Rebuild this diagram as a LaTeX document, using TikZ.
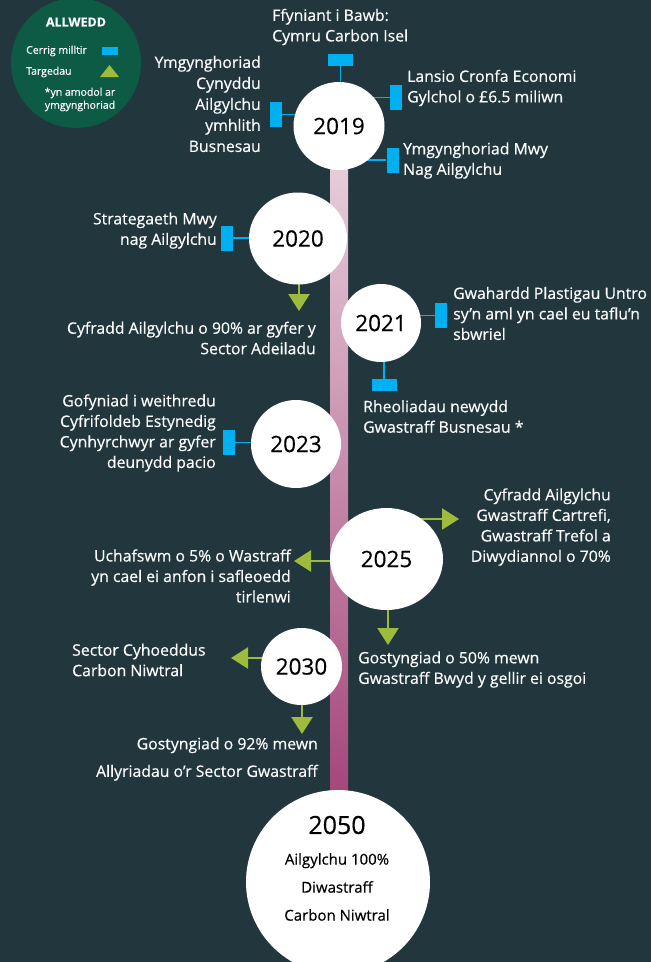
\documentclass[tikz,border=0pt]{standalone}
\usepackage{fontspec}
\setmainfont{Open Sans}[FakeBold=0.4]
\usetikzlibrary{arrows.meta,calc,shapes.geometric,backgrounds}
\definecolor{bgcol}{HTML}{21373D}
\definecolor{keycol}{HTML}{0D5A45}
\definecolor{mblue}{HTML}{00B0F0}
\definecolor{tgreen}{HTML}{9DBB3C}
\definecolor{bartop}{HTML}{E8D0DC}
\definecolor{barbot}{HTML}{A4457A}

\begin{document}
\begin{tikzpicture}[x=1pt,y=-1pt]
\tikzset{
    year/.style={ellipse,fill=white,inner sep=0pt,font=\fontsize{22.5}{24}\selectfont},
    mh/.style={fill=mblue,minimum width=25pt,minimum height=12pt,inner sep=0pt},
    mv/.style={fill=mblue,minimum width=12pt,minimum height=25pt,inner sep=0pt},
    stem/.style={draw=mblue,line width=1.6pt},
    target/.style={draw=tgreen,line width=2.6pt,-{Triangle[length=17pt,width=21pt]}},
    txt/.style={text=white,inner sep=0pt,font=\fontsize{15.8}{20.5}\selectfont},
    keytxt/.style={text=white,inner sep=0pt,font=\fontsize{10.5}{13}\selectfont}
}
\useasboundingbox (0,0) rectangle (651,962);
% key
\node[circle,fill=keycol,minimum size=130pt,inner sep=0pt] (key) at (76,63) {};
\node[text=white,inner sep=0pt,font=\bfseries\fontsize{12.5}{14}\selectfont] (kt) at (76,22) {ALLWEDD};
\node[keytxt,anchor=west] (k1) at (26,51) {Cerrig milltir};
\node[fill=mblue,minimum width=16pt,minimum height=8pt,inner sep=0pt] (km) at (110,51) {};
\node[keytxt,anchor=west] (k2) at (26,72) {Targedau};
\fill[tgreen] (100,77) -- (119,77) -- (109.5,65) -- cycle;
\node[keytxt,align=center] (k3) at (80,99.5) {*yn amodol ar\\ymgynghoriad};

% years
\node[year,minimum width=91pt,minimum height=88pt] (y2019) at (339,126) {2019};
\node[year,minimum width=98pt,minimum height=92pt] (y2020) at (298,238.5) {2020};
\node[year,minimum width=80pt,minimum height=78pt] (y2021) at (381,323) {2021};
\node[year,minimum width=90pt,minimum height=88pt] (y2023) at (296,444) {2023};
\node[year,minimum width=113pt,minimum height=102pt] (y2025) at (386.5,559) {2025};
\node[year,minimum width=81pt,minimum height=77pt] (y2030) at (301.5,666.5) {2030};
\node[circle,fill=white,inner sep=0pt,minimum size=184pt] (y2050) at (338,882) {};
\node[inner sep=0pt,font=\fontsize{25}{26}\selectfont] (y50) at (337,825) {2050};
\node[inner sep=0pt,align=center,font=\fontsize{15}{28}\selectfont] (t50) at (337,887) {Ailgylchu 100\%\\Diwastraff\\Carbon Niwtral};

% milestones
\node[mh] (m19a) at (340.5,60) {};
\node[mv] (m19b) at (276,114.5) {};
\node[mv] (m19c) at (396,97.5) {};
\node[mv] (m19d) at (392.5,160) {};
\node[mv] (m20) at (227,238) {};
\node[mv] (m21a) at (441,315.5) {};
\node[mh] (m21b) at (384,385) {};
\node[mv] (m23) at (228.5,442.5) {};

% labels
\node[txt,anchor=west,align=left] (t19a) at (272,27) {Ffyniant i Bawb:\\Cymru Carbon Isel};
\node[txt,anchor=east,align=right,font=\fontsize{15.8}{21}\selectfont] (t19b) at (261,104) {Ymgynghoriad\\Cynyddu\\Ailgylchu\\ymhlith\\Busnesau};
\node[txt,anchor=west,align=left] (t19c) at (407,88) {Lansio Cronfa Economi\\Gylchol o £6.5 miliwn};
\node[txt,anchor=west,align=left] (t19d) at (403,160.5) {Ymgynghoriad Mwy\\Nag Ailgylchu};
\node[txt,anchor=east,align=right] (t20a) at (217,230.5) {Strategaeth Mwy\\nag Ailgylchu};
\node[txt,anchor=east,align=right] (t20b) at (316,338) {Cyfradd Ailgylchu o 90\% ar gyfer y\\Sector Adeiladu};
\node[txt,anchor=west,align=left] (t21a) at (453,313.5) {Gwahardd Plastigau Untro\\sy’n aml yn cael eu taflu’n\\sbwriel};
\node[txt,anchor=west,align=left] (t21b) at (363,416.5) {Rheoliadau newydd\\Gwastraff Busnesau *};
\node[txt,anchor=east,align=right] (t23) at (216,433) {Gofyniad i weithredu\\Cyfrifoldeb Estynedig\\Cynhyrchwyr ar gyfer\\deunydd pacio};
\node[txt,anchor=east,align=right] (t25a) at (611,527) {Cyfradd Ailgylchu\\Gwastraff Cartrefi,\\Gwastraff Trefol a\\Diwydiannol o 70\%};
\node[txt,anchor=east,align=right] (t25b) at (291,576) {Uchafswm o 5\% o Wastraff\\yn cael ei anfon i safleoedd\\tirlenwi};
\node[txt,anchor=west,align=left] (t25c) at (358,669.5) {Gostyngiad o 50\% mewn\\Gwastraff Bwyd y gellir ei osgoi};
\node[txt,anchor=west,align=left] (t30a) at (72,660) {Sector Cyhoeddus\\Carbon Niwtral};
\node[txt,anchor=east,align=right] (t30b) at (318,759) {Gostyngiad o 92\% mewn\\[7pt]Allyriadau o’r Sector Gwastraff};

% target tips
\coordinate (g20) at (299,311);
\coordinate (g25a) at (459,519);
\coordinate (g25b) at (294,561);
\coordinate (g25c) at (388,645);
\coordinate (g30a) at (231,658);
\coordinate (g30b) at (302,734);

\begin{scope}[on background layer]
\fill[bgcol] (0,0) rectangle (651,962);
\shade[top color=bartop,bottom color=barbot] (330,150) rectangle (348,800);
% stems
\draw[stem] (m19a.south) -- (m19a.south |- y2019.center);
\draw[stem] (m19b.east) -- (m19b.east -| y2019.center);
\draw[stem] (m19c.west) -- (m19c.west -| y2019.center);
\draw[stem] (m19d.west) -- (m19d.west -| y2019.center);
\draw[stem] (m20.east) -- (m20.east -| y2020.center);
\draw[stem] (m21a.west) -- (m21a.west -| y2021.center);
\draw[stem] (m21b.north) -- (m21b.north |- y2021.center);
\draw[stem] (m23.east) -- (m23.east -| y2023.center);
% targets
\draw[target] (g20 |- y2020.center) -- (g20);
\draw[target] (g25a -| y2025.center) -- (g25a);
\draw[target] (g25b -| y2025.center) -- (g25b);
\draw[target] (g25c |- y2025.center) -- (g25c);
\draw[target] (g30a -| y2030.center) -- (g30a);
\draw[target] (g30b |- y2030.center) -- (g30b);
\end{scope}
\end{tikzpicture}
\end{document}
